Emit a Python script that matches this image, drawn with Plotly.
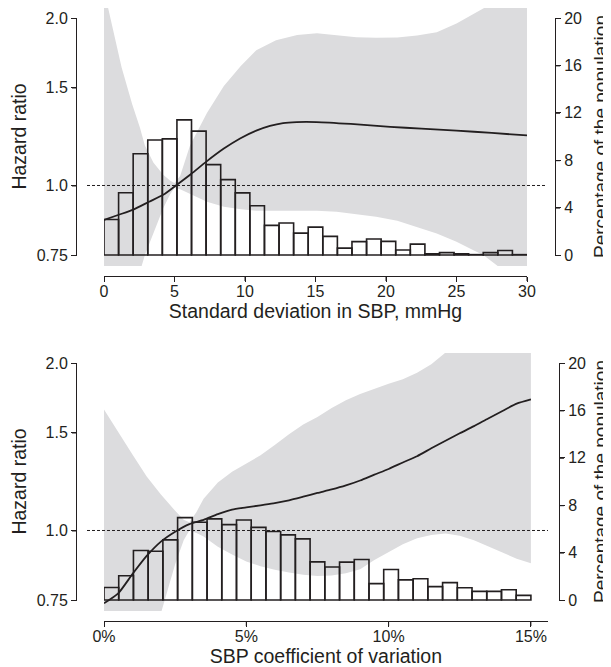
import math
import plotly.graph_objects as go

# The page body has the browser's default 8px margin, so the figure is sized
# to fill the rest of the 611x667 window.
PAGE_OFF = 8
W, H = 611 - PAGE_OFF, 667 - PAGE_OFF

# ---------------- data ----------------
# Panel A: standard deviation in SBP (mmHg)
sd_bin_pct = [3.0, 5.25, 8.55, 9.7, 9.8, 11.4, 10.45, 7.63, 6.36, 5.24, 4.15, 2.5, 2.7, 1.85, 2.35,
              1.57, 0.58, 1.13, 1.35, 1.15, 0.42, 0.92, 0.1, 0.2, 0.1, 0.03, 0.2, 0.38, 0.03]
sd_max = 30
sd_curve_x = [0, 1, 2.08, 3.2, 4.2, 5.1, 6.2, 7.28, 8.5, 9.65, 10.8, 11.77, 12.7, 13.66, 15.08,
              17.5, 20.3, 22.5, 25, 27.5, 30]
sd_curve_hr = [0.867, 0.885, 0.905, 0.935, 0.962, 1.0, 1.05, 1.105, 1.165, 1.215, 1.255, 1.28,
               1.295, 1.30, 1.30, 1.29, 1.275, 1.265, 1.255, 1.243, 1.23]
sd_ci_x = [0, 0.3, 1.25, 2.0, 2.55, 2.9, 3.5, 4.2, 4.7, 5.0, 5.4, 6.1, 7.3, 8.5, 9.7, 10.8, 12.2,
           13.7, 15.1, 16.5, 17.9, 19.3, 20.8, 22.2, 23.6, 25.0, 26.2, 26.9, 27.9, 29, 30]
sd_ci_upper = [2.6, 2.08, 1.63, 1.40, 1.27, 1.18, 1.10, 1.045, 1.02, 1.01, 1.04, 1.18, 1.35, 1.51,
               1.64, 1.75, 1.825, 1.865, 1.877, 1.86, 1.847, 1.843, 1.845, 1.86, 1.885, 1.955,
               2.035, 2.08, 2.15, 2.3, 2.4]
sd_ci_lower = [0.40, 0.42, 0.50, 0.62, 0.70, 0.75, 0.82, 0.91, 0.965, 0.99, 0.985, 0.968, 0.935,
               0.916, 0.906, 0.901, 0.900, 0.901, 0.901, 0.897, 0.889, 0.879, 0.864, 0.843, 0.820,
               0.792, 0.765, 0.750, 0.717, 0.68, 0.66]
sd_ticks = [0, 5, 10, 15, 20, 25, 30]
sd_ticktext = ["0", "5", "10", "15", "20", "25", "30"]

# Panel B: SBP coefficient of variation (%)
cv_bin_pct = [1.05, 2.05, 4.18, 4.12, 5.07, 6.95, 6.56, 6.85, 6.36, 6.75, 6.13, 5.78, 5.5, 5.16,
              3.22, 2.78, 3.2, 3.42, 1.38, 2.58, 1.7, 1.79, 1.13, 1.47, 1.03, 0.73, 0.73, 0.87, 0.39]
cv_max = 15
cv_curve_x = [0, 0.5, 1.0, 1.5, 2.0, 2.5, 3.0, 3.5, 4.0, 4.5, 5.0, 5.5, 6.0, 6.5, 7.0, 7.5, 8.0,
              8.5, 9.0, 9.5, 10.0, 10.5, 11.0, 11.5, 12.0, 12.5, 13.0, 13.5, 14.0, 14.5, 15.0]
cv_curve_hr = [0.74, 0.771, 0.835, 0.90, 0.955, 0.995, 1.027, 1.045, 1.07, 1.09, 1.10, 1.11, 1.12,
               1.133, 1.15, 1.168, 1.185, 1.205, 1.23, 1.26, 1.29, 1.325, 1.36, 1.405, 1.45, 1.495,
               1.54, 1.59, 1.64, 1.69, 1.72]
cv_ci_x = [0, 0.5, 1.0, 1.5, 2.0, 2.5, 2.8, 3.0, 3.25, 3.5, 4.0, 4.5, 5.0, 5.5, 6.0, 6.5, 7.0, 7.5,
           8.0, 8.5, 9.0, 9.5, 10.0, 10.5, 11.0, 11.5, 12.0, 12.5, 13.0, 13.5, 14.0, 14.5, 15.0]
cv_ci_upper = [1.65, 1.50, 1.37, 1.25, 1.16, 1.085, 1.045, 1.035, 1.08, 1.14, 1.22, 1.275, 1.32,
               1.365, 1.425, 1.49, 1.55, 1.60, 1.66, 1.715, 1.76, 1.80, 1.835, 1.87, 1.92, 1.99,
               2.09, 2.2, 2.3, 2.4, 2.5, 2.6, 2.7]
cv_ci_lower = [0.45, 0.50, 0.55, 0.62, 0.71, 0.87, 0.96, 1.0, 0.99, 0.975, 0.935, 0.905, 0.88,
               0.862, 0.850, 0.840, 0.833, 0.828, 0.830, 0.838, 0.852, 0.885, 0.915, 0.945, 0.968,
               0.982, 0.988, 0.978, 0.96, 0.937, 0.912, 0.89, 0.873]
cv_ticks = [0, 5, 10, 15]
cv_ticktext = ["0%", "5%", "10%", "15%"]

hr_ticks = [0.75, 1.0, 1.5, 2.0]
hr_ticktext = ["0.75", "1.0", "1.5", "2.0"]
pct_ticks = [0, 4, 8, 12, 16, 20]
pct_ticktext = ["0", "4", "8", "12", "16", "20"]

# ---------------- style ----------------
FONT = "Liberation Sans, Arial, Helvetica, sans-serif"
INK = "#231f20"
BAND = "#dcdcde"
TICKF = dict(family=FONT, size=16, color=INK)
TITLEF = dict(family=FONT, size=19.5, color=INK)
RTITLEF = dict(family=FONT, size=19, color=INK)


def fx(px):
    return (px - PAGE_OFF) / W


def fy(py):
    return 1 - (py - PAGE_OFF) / H


fig = go.Figure()
layout = {}
shapes = []


def k(prefix, i):
    return prefix + ("" if i == 1 else str(i))


def add_panel(n, bins, vmax, xrange_max, xdom_px, cx, chr_, cix, ciu, cil, xt, xtt, xtitle,
              top_px, left_px, right_px, dash_px):
    span = 237.0
    bot_px = top_px + span
    xline_px = bot_px + 21
    lo, hi = math.log10(hr_ticks[0]), math.log10(hr_ticks[-1])
    per = (hi - lo) / span
    pper = 20.0 / span
    over_t, over_b = 10, 11

    X, XD, XL, XR = (k("x", n["x"]), k("x", n["xd"]), k("x", n["xl"]), k("x", n["xr"]))
    YH, YP, YHD, YPD, YB = (k("y", n["yh"]), k("y", n["yp"]), k("y", n["yhd"]),
                            k("y", n["ypd"]), k("y", n["yb"]))

    axis_common = dict(showline=True, linecolor=INK, linewidth=1, ticks="outside", ticklen=5,
                       tickwidth=1, tickcolor=INK, tickfont=TICKF, showgrid=False,
                       zeroline=False, automargin=False)
    hidden = dict(visible=False, showgrid=False, zeroline=False)

    layout[k("xaxis", n["x"])] = dict(domain=[fx(xdom_px[0]), fx(xdom_px[1])],
                                      range=[0, xrange_max], anchor=YB, side="bottom",
                                      tickvals=xt, ticktext=xtt, ticklabelstandoff=-4,
                                      title=dict(text=xtitle, font=TITLEF, standoff=2),
                                      **axis_common)
    layout[k("yaxis", n["yb"])] = dict(domain=[fy(xline_px), fy(top_px)], range=[0, 1],
                                       anchor=X, **hidden)
    layout[k("xaxis", n["xl"])] = dict(domain=[fx(left_px), fx(xdom_px[1])], range=[0, 1],
                                       anchor=YHD, **hidden)
    layout[k("xaxis", n["xr"])] = dict(domain=[fx(xdom_px[0]), fx(right_px)], range=[0, 1],
                                       anchor=YPD, **hidden)
    layout[k("xaxis", n["xd"])] = dict(domain=[fx(dash_px[0]), fx(dash_px[1])], range=[0, 1],
                                       anchor=YH, **hidden)
    layout[k("yaxis", n["yh"])] = dict(type="log", domain=[fy(bot_px + over_b), fy(top_px - over_t)],
                                       range=[lo - over_b * per, hi + over_t * per],
                                       anchor=X, **hidden)
    layout[k("yaxis", n["yp"])] = dict(overlaying=YH, range=[-over_b * pper, 20 + over_t * pper],
                                       anchor=X, **hidden)
    layout[k("yaxis", n["yhd"])] = dict(type="log", domain=[fy(bot_px), fy(top_px)], range=[lo, hi],
                                        anchor=XL, side="left",
                                        tickvals=hr_ticks, ticktext=hr_ticktext,
                                        title=dict(text="Hazard ratio", font=TITLEF, standoff=11),
                                        **axis_common)
    layout[k("yaxis", n["ypd"])] = dict(domain=[fy(bot_px), fy(top_px)], range=[0, 20],
                                        anchor=XR, side="right",
                                        tickvals=pct_ticks, ticktext=pct_ticktext,
                                        title=dict(text="Percentage of the population",
                                                   font=RTITLEF, standoff=18),
                                        **axis_common)

    # axis lines and tick marks (drawn explicitly so that every axis shows them)
    ln = dict(color=INK, width=1)
    shapes.append(dict(type="line", xref=X, x0=0, x1=xrange_max, yref="paper",
                       y0=fy(xline_px + 0.5), y1=fy(xline_px + 0.5), line=ln, layer="above"))
    for v in xt:
        shapes.append(dict(type="line", xref=X, x0=v, x1=v, yref="paper",
                           y0=fy(xline_px), y1=fy(xline_px + 5), line=ln, layer="above"))
    for xl_px in (left_px - 0.5, right_px + 0.5):
        shapes.append(dict(type="line", xref="paper", x0=fx(xl_px), x1=fx(xl_px), yref="paper",
                           y0=fy(bot_px), y1=fy(top_px), line=ln, layer="above"))
    for v in hr_ticks:
        py = top_px + (hi - math.log10(v)) / per + 0.5
        shapes.append(dict(type="line", xref="paper", x0=fx(left_px - 5), x1=fx(left_px),
                           yref="paper", y0=fy(py), y1=fy(py), line=ln, layer="above"))
    for v in pct_ticks:
        py = bot_px - v / pper + 0.5
        shapes.append(dict(type="line", xref="paper", x0=fx(right_px), x1=fx(right_px + 5),
                           yref="paper", y0=fy(py), y1=fy(py), line=ln, layer="above"))

    fig.add_trace(go.Scatter(x=cix + cix[::-1], y=ciu + cil[::-1], fill="toself",
                             fillcolor=BAND, mode="lines", line=dict(width=0, color=BAND),
                             xaxis=X, yaxis=YH, hoverinfo="skip", showlegend=False))
    nb = len(bins)
    bw = vmax / nb
    centers = [(i + 0.5) * bw for i in range(nb)]
    fig.add_trace(go.Bar(x=centers, y=bins, width=bw, xaxis=X, yaxis=YP,
                         marker=dict(color="rgba(0,0,0,0)", line=dict(color=INK, width=1.6)),
                         showlegend=False, hoverinfo="skip"))
    fig.add_trace(go.Scatter(x=[0, 1], y=[1, 1], xaxis=XD, yaxis=YH, mode="lines",
                             line=dict(color=INK, width=1, dash="3px,2px"),
                             showlegend=False, hoverinfo="skip"))
    fig.add_trace(go.Scatter(x=cx, y=chr_, xaxis=X, yaxis=YH, mode="lines",
                             line=dict(color=INK, width=1.8, shape="spline", smoothing=0.6),
                             showlegend=False, hoverinfo="skip"))
    for xa_, ya_ in ((X, YB), (XL, YHD), (XR, YPD)):
        fig.add_trace(go.Scatter(x=[0.5], y=[0.5 if ya_ == YB else (1.0 if ya_ == YHD else 10)],
                                 xaxis=xa_, yaxis=ya_, mode="lines",
                                 showlegend=False, hoverinfo="skip"))


add_panel(dict(x=1, xd=3, xl=5, xr=7, yh=1, yp=2, yhd=3, ypd=4, yb=9),
          sd_bin_pct, sd_max, 30, (104, 527), sd_curve_x, sd_curve_hr,
          sd_ci_x, sd_ci_upper, sd_ci_lower, sd_ticks, sd_ticktext,
          "Standard deviation in SBP, mmHg", 18, 77, 555, (87, 545))
add_panel(dict(x=2, xd=4, xl=6, xr=8, yh=5, yp=6, yhd=7, ypd=8, yb=10),
          cv_bin_pct, cv_max, 15.59, (104, 547.7), cv_curve_x, cv_curve_hr,
          cv_ci_x, cv_ci_upper, cv_ci_lower, cv_ticks, cv_ticktext,
          "SBP coefficient of variation", 363, 77, 559, (87, 548))

fig.update_layout(**layout)
fig.update_layout(width=W, height=H, margin=dict(l=0, r=0, t=0, b=0),
                  paper_bgcolor="white", plot_bgcolor="rgba(0,0,0,0)",
                  barmode="overlay", showlegend=False, font=dict(family=FONT, color=INK),
                  shapes=shapes)

fig.write_html(
    "out.html",
    post_script="var gd = document.getElementById('{plot_id}');"
                " return Plotly.relayout(gd, {'margin.b': 0.01});",
)
